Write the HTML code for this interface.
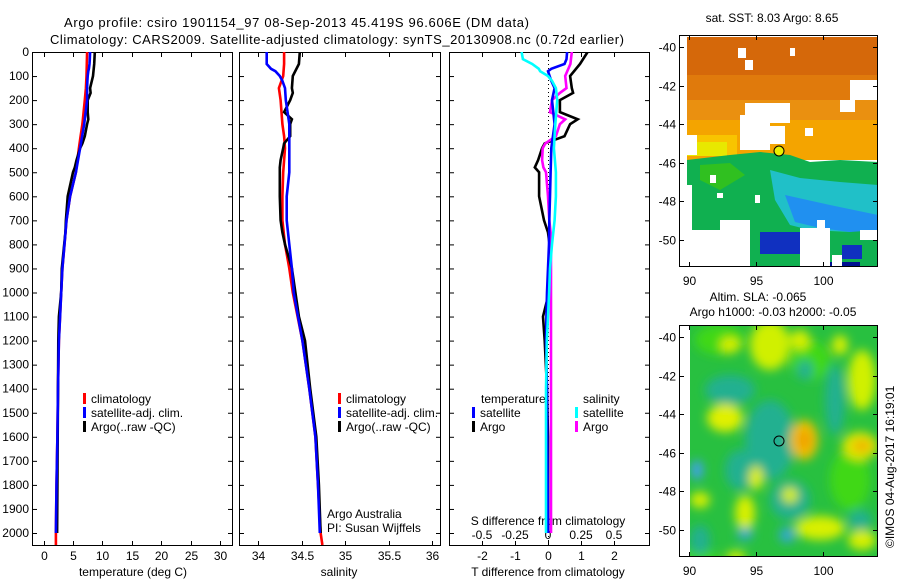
<!DOCTYPE html>
<html><head><meta charset="utf-8"><style>
html,body{margin:0;padding:0;background:#fff;}
svg{display:block;font-family:"Liberation Sans",sans-serif;}
text{font-size:12px;fill:#000;}
</style></head><body>
<svg id="c" width="900" height="580" viewBox="0 0 900 580">
<defs>
<clipPath id="cp1"><rect x="32" y="52" width="200" height="493"/></clipPath>
<clipPath id="cp2"><rect x="239" y="52" width="201" height="493"/></clipPath>
<clipPath id="cp3"><rect x="449" y="52" width="200" height="493"/></clipPath>
<clipPath id="mapTop"><rect x="687" y="37" width="191" height="230"/></clipPath>
<clipPath id="mapBot"><rect x="687" y="325" width="191" height="232"/></clipPath>
<filter id="blur" x="-20%" y="-20%" width="140%" height="140%"><feGaussianBlur stdDeviation="5"/></filter>
<filter id="blur2" x="-20%" y="-20%" width="140%" height="140%"><feGaussianBlur stdDeviation="3"/></filter>
</defs>
<text x="64" y="27" textLength="465" style="font-size:13px">Argo profile: csiro 1901154_97 08-Sep-2013 45.419S 96.606E (DM data)</text>
<text x="50" y="44" textLength="574" style="font-size:13px">Climatology: CARS2009. Satellite-adjusted climatology: synTS_20130908.nc (0.72d earlier)</text>
<g id="axes"></g>
<g id="series"></g>
<g id="maps"></g>
</svg>
<script>
// ---- data ----
const depthTicks=[0,100,200,300,400,500,600,700,800,900,1000,1100,1200,1300,1400,1500,1600,1700,1800,1900,2000];
const tTicks=[0,5,10,15,20,25,30];
const sTicks=[34,34.5,35,35.5,36];
const tdTicks=[-2,-1,0,1,2];
const sdTickLabels=["-0.5","-0.25","0","0.25","0.5"];
const sdTicks=[-0.5,-0.25,0,0.25,0.5];

const argoDepth=[0,50,100,150,170,200,250,280,300,350,380,400,450,480,500,600,700,750,800,900,1000,1100,1200,1400,1600,1800,2000];
const argoT=[8.7,8.6,8.4,7.9,8.0,7.5,7.5,7.6,7.4,7.0,6.6,6.2,5.6,5.3,5.0,4.1,3.8,3.7,3.5,3.1,3.0,2.6,2.5,2.45,2.4,2.35,2.3];
const argoS=[34.48,34.47,34.40,34.39,34.40,34.37,34.30,34.39,34.37,34.37,34.30,34.29,34.26,34.25,34.25,34.25,34.26,34.28,34.31,34.39,34.43,34.47,34.54,34.60,34.67,34.70,34.72];
const argoDT=[1.2,0.97,0.67,0.72,0.76,0.36,0.36,0.9,0.67,0.5,-0.1,-0.18,-0.3,-0.4,-0.27,-0.27,-0.12,0,0.05,0.03,0.03,-0.15,-0.1,-0.03,0,0,0];
const argoDS=[0.18,0.17,0.13,0.14,0.09,0.03,0.015,0.13,0.09,0.06,-0.02,-0.04,-0.045,-0.035,-0.015,0,0.01,0.02,0.022,0.023,0.023,0.023,0.023,0.023,0.023,0.023,0.023];

const climDepth=[0,50,100,150,200,300,350,400,500,600,700,800,900,1000,1200,1400,1600,1800,2000,2050];
const climT=[7.4,7.35,7.3,7.2,7.0,6.6,6.3,6.0,5.5,4.5,3.9,3.55,3.2,3.0,2.6,2.45,2.35,2.2,2.1,2.1];
const climS=[34.30,34.30,34.29,34.24,34.26,34.28,34.30,34.31,34.29,34.28,34.28,34.31,34.36,34.40,34.51,34.59,34.66,34.69,34.72,34.74];

const satDepth=[0,30,50,70,80,100,120,150,200,300,400,500,600,700,800,900,1000,1100,1200,1400,1600,1800,2000];
const satT=[7.9,7.85,7.8,7.7,7.6,7.5,7.45,7.4,7.4,6.9,6.2,5.5,4.5,3.9,3.55,3.2,3.0,2.8,2.6,2.45,2.35,2.2,2.1];
const satS=[34.10,34.10,34.10,34.15,34.20,34.25,34.28,34.31,34.32,34.36,34.36,34.36,34.33,34.33,34.36,34.39,34.41,34.46,34.51,34.59,34.66,34.69,34.71];
const satDT=[0.58,0.56,0.5,0.1,0,0.05,0.1,0.2,0.12,0.2,0.1,0.08,0.06,0.04,0.03,0.0,-0.03,-0.05,-0.06,-0.03,-0.02,-0.01,0];
const satDS=[-0.2,-0.19,-0.12,-0.07,-0.06,0,0.03,0.06,0.07,0.055,0.045,0.06,0.06,0.05,0.03,0.015,0.008,0,-0.008,-0.015,-0.015,-0.015,-0.015];

// ---- scales ----
const yD=d=>52+d*0.2405;
const xT=t=>43.6+t*5.88;
const xS=s=>258+(s-34)*87;
const xDT=v=>548+v*33;
const xDS=v=>548+v*132;

const NS="http://www.w3.org/2000/svg";
function mk(tag,attrs,parent){const e=document.createElementNS(NS,tag);for(const k in attrs)e.setAttribute(k,attrs[k]);parent.appendChild(e);return e;}
const axes=document.getElementById('axes');
const series=document.getElementById('series');

const panels=[{x:32,w:200,name:'temperature-panel'},{x:239,w:201,name:'salinity-panel'},{x:449,w:200,name:'difference-panel'}];
panels.forEach(p=>{
  const r=mk('rect',{x:p.x+0.5,y:52.5,width:p.w,height:493,fill:'none',stroke:'#000','stroke-width':1},axes);
  
  
  depthTicks.forEach(d=>{
    mk('line',{x1:p.x,x2:p.x+5,y1:yD(d)+0.5,y2:yD(d)+0.5,stroke:'#000'},axes);
    mk('line',{x1:p.x+p.w-4,x2:p.x+p.w+1,y1:yD(d)+0.5,y2:yD(d)+0.5,stroke:'#000'},axes);
  });
});
depthTicks.forEach(d=>{
  const t=mk('text',{x:29,y:yD(d)+4,'text-anchor':'end'},axes);
  t.textContent=d;
  
  
});
function xticks(vals,fx,labels){
  vals.forEach((v,i)=>{
    const x=Math.round(fx(v))+0.5;
    mk('line',{x1:x,x2:x,y1:52,y2:57,stroke:'#000'},axes);
    mk('line',{x1:x,x2:x,y1:541,y2:546,stroke:'#000'},axes);
    if(labels){const t=mk('text',{x:x,y:560,'text-anchor':'middle'},axes);t.textContent=labels[i];
      
      }
  });
}
xticks(tTicks,xT,tTicks);
xticks(sTicks,xS,sTicks);
xticks(tdTicks,xDT,tdTicks);
sdTicks.forEach((v,i)=>{
  const t=mk('text',{x:xDS(v),y:539,'text-anchor':'middle'},axes);t.textContent=sdTickLabels[i];
  
  
});
[['temperature (deg C)',133,'x-axis-title-temperature'],['salinity',339,'x-axis-title-salinity'],['T difference from climatology',548,'x-axis-title-t-diff']].forEach(a=>{
  const t=mk('text',{x:a[1],y:576,'text-anchor':'middle'},axes);t.textContent=a[0];
  
  
});
{const t=mk('text',{x:548,y:525,'text-anchor':'middle'},axes);t.textContent='S difference from climatology';

}
{const l=mk('line',{x1:548.5,x2:548.5,y1:52,y2:545,stroke:'#000','stroke-dasharray':'1,3'},axes);

}

function line(depths,vals,fx,color,clip,name){
  const pts=depths.map((d,i)=>fx(vals[i]).toFixed(1)+','+yD(d).toFixed(1)).join(' ');
  const pl=mk('polyline',{points:pts,fill:'none',stroke:color,'stroke-width':2.6,'clip-path':'url(#'+clip+')'},series);
  
  
}
line(climDepth,climT,xT,'#ff0000','cp1','temp-climatology-line');
line(argoDepth,argoT,xT,'#000000','cp1','temp-argo-line');
line(satDepth,satT,xT,'#0000ff','cp1','temp-satellite-line');
line(climDepth,climS,xS,'#ff0000','cp2','sal-climatology-line');
line(argoDepth,argoS,xS,'#000000','cp2','sal-argo-line');
line(satDepth,satS,xS,'#0000ff','cp2','sal-satellite-line');
line(argoDepth,argoDT,xDT,'#000000','cp3','tdiff-argo-line');
line(argoDepth,argoDS,xDS,'#ff00ff','cp3','sdiff-argo-line');
line(satDepth,satDT,xDT,'#0000ff','cp3','tdiff-satellite-line');
line(satDepth,satDS,xDS,'#00ffff','cp3','sdiff-satellite-line');

function legend(x,y,color,label){
  const r=mk('rect',{x:x,y:y-6,width:3,height:11,fill:color},axes);
  
  
  const t=mk('text',{x:x+8,y:y+4},axes);t.textContent=label;
  
  
}
[[83,'climatology','#ff0000'],[83,'satellite-adj. clim.','#0000ff'],[83,'Argo(..raw -QC)','#000000']].forEach((a,i)=>legend(a[0],399+i*14,a[2],a[1]));
[[338,'climatology','#ff0000'],[338,'satellite-adj. clim.','#0000ff'],[338,'Argo(..raw -QC)','#000000']].forEach((a,i)=>legend(a[0],399+i*14,a[2],a[1]));
legend(472,413,'#0000ff','satellite');legend(472,427,'#000000','Argo');
legend(575,413,'#00ffff','satellite');legend(575,427,'#ff00ff','Argo');
[['temperature',481,403],['salinity',583,403],['Argo Australia',327,518],['PI: Susan Wijffels',327,532]].forEach(a=>{
  const t=mk('text',{x:a[1],y:a[2]},axes);t.textContent=a[0];
  
  
});

// ---- maps ----
const maps=document.getElementById('maps');
const lonTicks=[90,95,100];
const latTicks=[-40,-42,-44,-46,-48,-50];
const mx=l=>689+13.4*(l-90);
function mapFrame(y0,latY,name){
  const r=mk('rect',{x:679.5,y:y0+0.5,width:198,height:231,fill:'none',stroke:'#000'},maps);
  
  
  lonTicks.forEach(l=>{const x=Math.round(mx(l))+0.5;
    mk('line',{x1:x,x2:x,y1:y0,y2:y0+5,stroke:'#000'},maps);
    mk('line',{x1:x,x2:x,y1:y0+227,y2:y0+232,stroke:'#000'},maps);
    const t=mk('text',{x:x,y:y0+250,'text-anchor':'middle'},maps);t.textContent=l;
    
    });
  latTicks.forEach(la=>{const y=Math.round(latY(la))+0.5;
    mk('line',{x1:679,x2:684,y1:y,y2:y,stroke:'#000'},maps);
    mk('line',{x1:873,x2:878,y1:y,y2:y,stroke:'#000'},maps);
    const t=mk('text',{x:676,y:y+4,'text-anchor':'end'},maps);t.textContent=la;
    
    });
}
// top SST map
const gT=mk('g',{'clip-path':'url(#mapTop)'},maps);


[['#d5680a',687,37,191,40],['#e07a0c',687,75,191,30],['#ea9010',687,100,191,25],['#f4a400',687,120,191,40],
 ['#f8c400',687,135,50,20],['#e8e800',687,142,40,14]].forEach(a=>mk('rect',{x:a[1],y:a[2],width:a[3],height:a[4],fill:a[0]},gT));
mk('polygon',{points:'687,160 730,155 760,152 790,155 810,162 840,160 878,162 878,267 687,267',fill:'#10b050'},gT);
mk('polygon',{points:'700,165 730,163 745,175 720,190 700,180',fill:'#30c020'},gT);
mk('polygon',{points:'770,170 800,178 840,182 878,185 878,225 850,232 810,230 790,225 775,200',fill:'#20c0c8'},gT);
mk('polygon',{points:'785,195 830,205 878,215 878,230 850,232 820,228 795,222',fill:'#2090f0'},gT);
mk('rect',{x:760,y:232,width:45,height:22,fill:'#1030c0'},gT);
mk('rect',{x:842,y:245,width:20,height:14,fill:'#1030c0'},gT);
mk('rect',{x:820,y:262,width:40,height:6,fill:'#001090'},gT);
[[745,103,45,20],[740,115,30,35],[770,126,15,18],[687,135,10,20],[687,185,5,80],[687,230,60,40],[720,220,30,50],[800,228,30,40],[860,230,18,10],[832,255,10,12],
 [840,100,15,12],[850,80,28,20],[738,48,8,10],[790,48,5,8],[745,60,8,10],[805,128,8,8],[710,175,6,8],[717,193,6,5],[755,195,5,8],[817,220,8,8]].forEach(a=>mk('rect',{x:a[0],y:a[1],width:a[2],height:a[3],fill:'#fff'},gT));
{const c=mk('circle',{cx:779,cy:151,r:5,fill:'#e8f000',stroke:'#000'},maps);

}
mapFrame(35,la=>47+19.27*(-40-la),'sst-map-frame');
{const t=mk('text',{x:772,y:22,'text-anchor':'middle'},maps);t.textContent='sat. SST: 8.03 Argo: 8.65';

}

// bottom SLA map
const gB=mk('g',{'clip-path':'url(#mapBot)'},maps);


mk('rect',{x:687,y:325,width:191,height:232,fill:'#28c040'},gB);
const gBl=mk('g',{filter:'url(#blur)'},gB);
[['#40d818',720,340,25,15],['#40d818',810,360,20,20],['#40d818',700,560,20,10],['#40d818',850,480,20,30],
 ['#20b090',770,440,25,40],['#20b090',835,400,10,35],['#20b090',730,390,25,15],['#20b090',805,370,8,10],['#20b090',790,500,20,20],['#20b090',740,470,15,20],['#20b090',700,540,10,15],['#20b090',860,520,12,10],
 ['#40a0f0',697,470,6,10],
 ['#d0f000',770,345,20,25],['#d0f000',862,380,14,30],['#e0f000',725,418,18,14],['#f0c000',804,440,14,20],['#f0a000',804,440,7,10],
 ['#e0e800',860,446,18,14],['#f0b000',862,446,10,6],['#d8f000',820,528,25,12],['#d8f000',745,513,10,18],['#e0f000',756,478,7,12],
 ['#d8f000',800,340,10,10],['#d8f000',840,345,8,10],['#d8f000',730,345,10,8],['#d8f000',700,500,10,8],['#d8f000',862,540,14,10],['#d8f000',790,495,8,8],
 ['#30a8d0',787,535,8,8],['#30a8d0',745,534,8,6],['#d8f000',736,557,10,6]].forEach(a=>mk('ellipse',{cx:a[1],cy:a[2],rx:a[3],ry:a[4],fill:a[0]},gBl));
mk('rect',{x:687,y:325,width:3,height:232,fill:'#fff'},gB);
mk('circle',{cx:779,cy:441,r:5,fill:'none',stroke:'#000'},maps);
mapFrame(325,la=>337+19.27*(-40-la),'sla-map-frame');
[['Altim. SLA: -0.065',758,301],['Argo h1000: -0.03 h2000: -0.05',773,316]].forEach(a=>{
  const t=mk('text',{x:a[1],y:a[2],'text-anchor':'middle'},maps);t.textContent=a[0];
  
  });
{const t=mk('text',{x:0,y:0,transform:'translate(894,548) rotate(-90)'},maps);t.textContent='©IMOS 04-Aug-2017 16:19:01';

}
</script>
</body></html>
